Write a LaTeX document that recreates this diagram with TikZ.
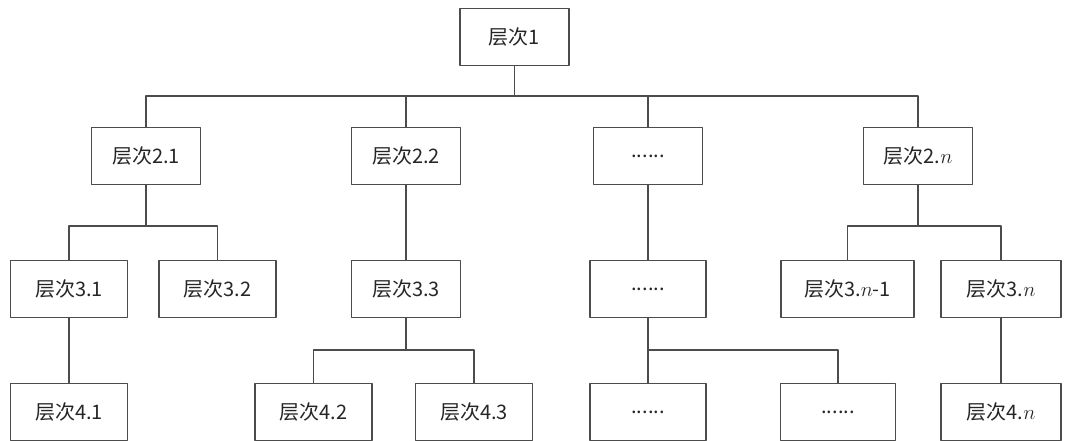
\documentclass[tikz,border=0pt]{standalone}
\usepackage{fontspec}
\newfontfamily\cjk{Noto Sans CJK SC}
\begin{document}
\begin{tikzpicture}[x=1pt, y=-1pt, line join=round, line cap=round,
  box/.style={draw=black!70, line width=1.2pt, minimum width=109pt,
    minimum height=57pt, inner sep=0pt, text=black!85,
    font=\cjk\fontsize{20}{23}\selectfont},
  wire/.style={draw=black!70, line width=1.3pt}]
  \useasboundingbox (0,0) rectangle (1068,441);
  \path (0,96) coordinate (b1) (0,226) coordinate (b2) (0,350) coordinate (b3);

  % level 1 and 2
  \node[box] (L1)  at (514.5,37) {层次1};
  \node[box] (L21) at (146,156) {层次2.1};
  \node[box] (L22) at (406,156) {层次2.2};
  \node[box] (L2d) at (648,156) {......};
  \node[box] (L2n) at (918,156) {层次2.$n$};

  % level 3
  \node[box, minimum width=117pt] (L31) at (69,289) {层次3.1};
  \node[box, minimum width=117pt] (L32) at (217.5,289) {层次3.2};
  \node[box] (L33) at (406,289) {层次3.3};
  \node[box, minimum width=116pt] (L3d) at (648,289) {......};
  \node[box, minimum width=133pt] (L3m) at (847.5,289) {层次3.$n$-1};
  \node[box, minimum width=120pt] (L3n) at (1001,289) {层次3.$n$};

  % level 4
  \node[box, minimum width=117pt] (L41) at (69,412) {层次4.1};
  \node[box, minimum width=117pt] (L42) at (313.5,412) {层次4.2};
  \node[box, minimum width=117pt] (L43) at (474,412) {层次4.3};
  \node[box, minimum width=116pt] (L4d) at (648,412) {......};
  \node[box, minimum width=115pt] (L4e) at (838,412) {......};
  \node[box, minimum width=120pt] (L4n) at (1001,412) {层次4.$n$};

  % connectors
  \draw[wire] (L1.south) -- (L1.south |- b1);
  \draw[wire] (L21.north) -- (L21.north |- b1) -| (L2n.north);
  \foreach \p in {L22,L2d}
    \draw[wire] (\p.north) -- (\p.north |- b1);
  \draw[wire] (L21.south) -- (L21.south |- b2);
  \draw[wire] (L31.north) -- (L31.north |- b2) -| (L32.north);
  \draw[wire] (L22.south) -- (L33.north);
  \draw[wire] (L2d.south) -- (L3d.north);
  \draw[wire] (L2n.south) -- (L2n.south |- b2);
  \draw[wire] (L3m.north) -- (L3m.north |- b2) -| (L3n.north);
  \draw[wire] (L31.south) -- (L41.north);
  \draw[wire] (L33.south) -- (L33.south |- b3);
  \draw[wire] (L42.north) -- (L42.north |- b3) -| (L43.north);
  \draw[wire] (L3d.south) -- (L4d.north);
  \draw[wire] (L4d.north |- b3) -| (L4e.north);
  \draw[wire] (L3n.south) -- (L4n.north);
\end{tikzpicture}
\end{document}
